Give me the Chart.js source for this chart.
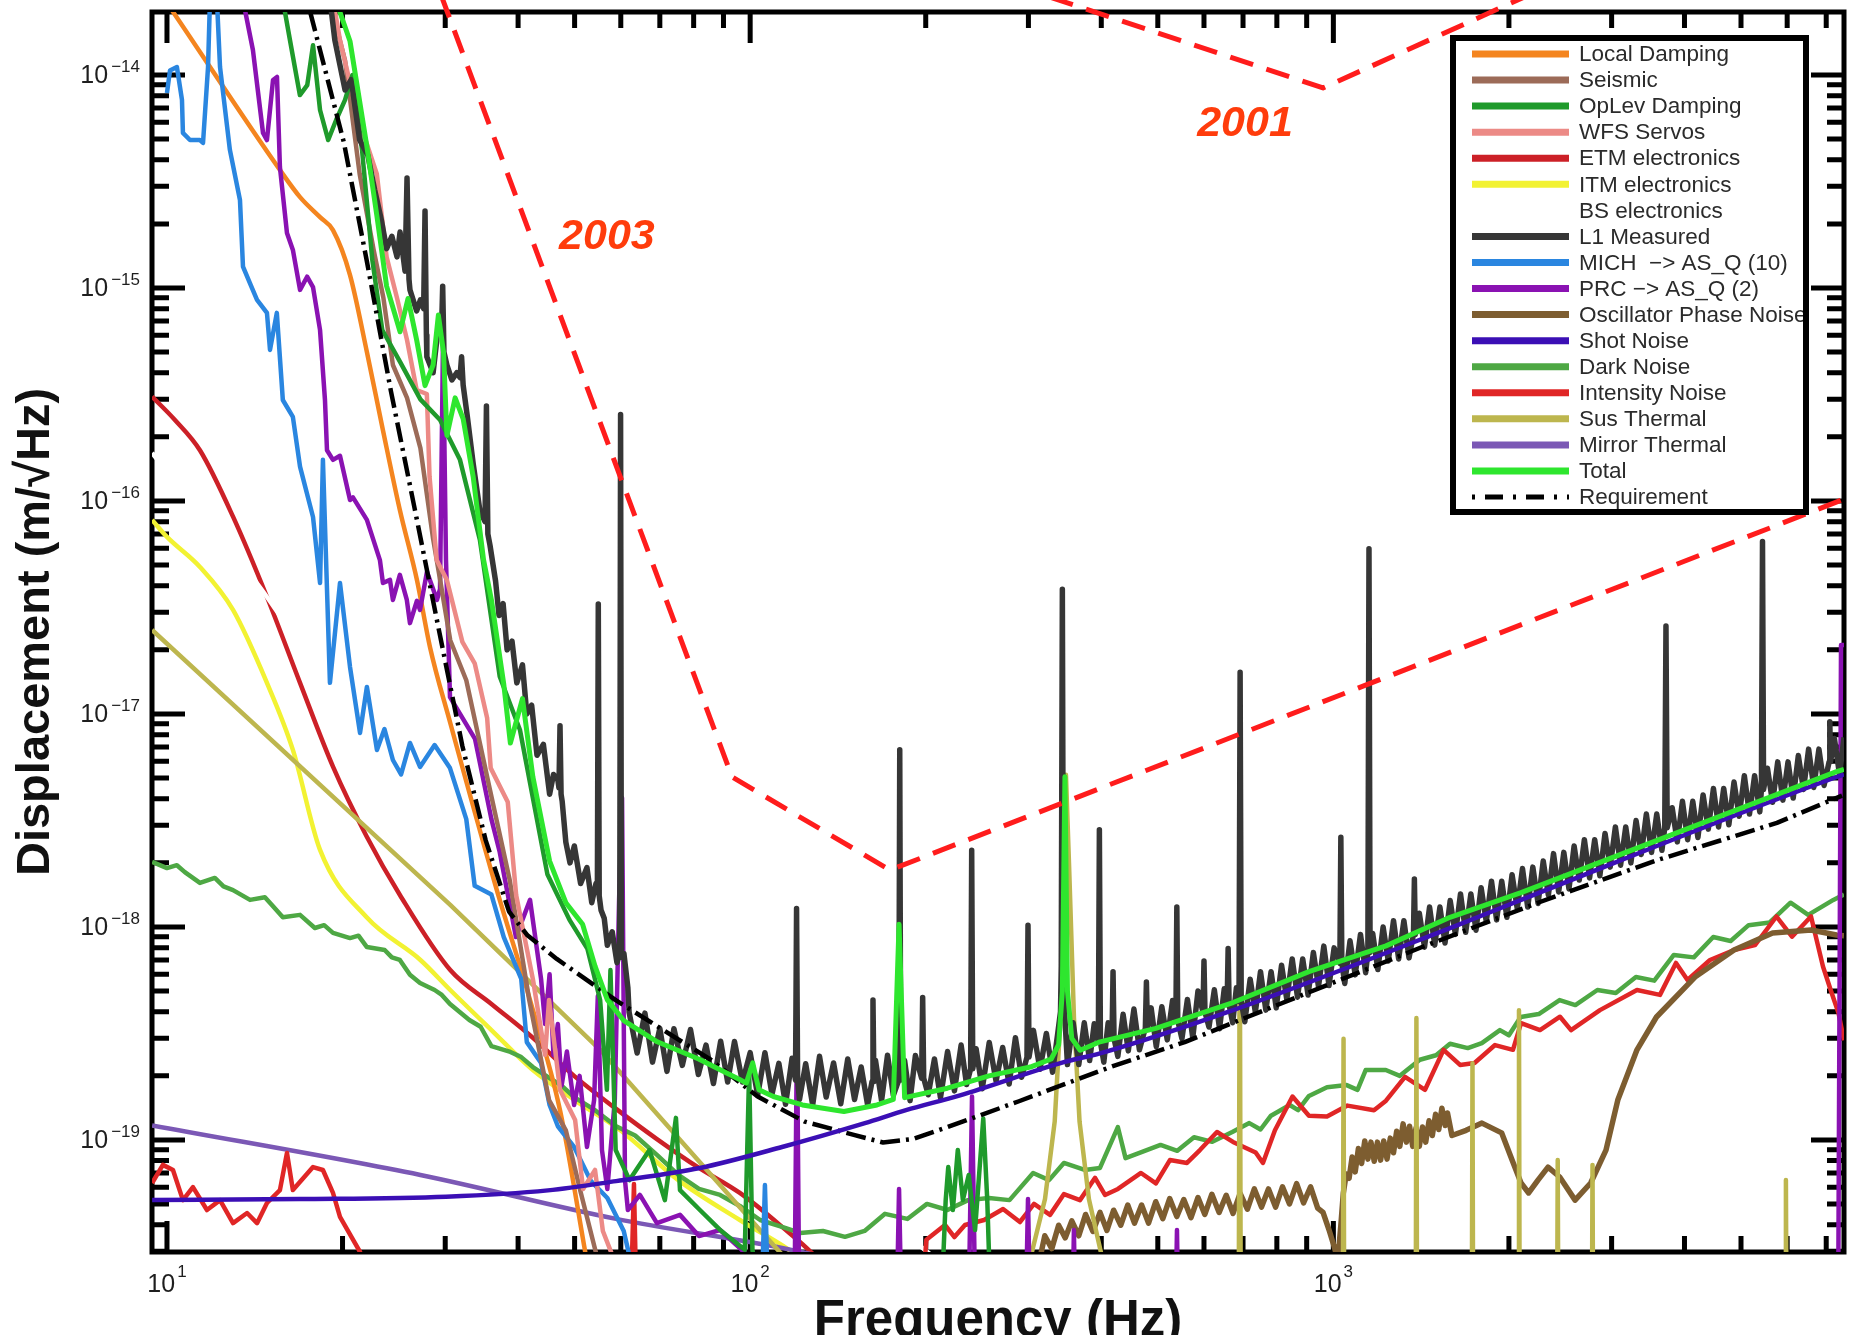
<!DOCTYPE html>
<html>
<head>
<meta charset="utf-8">
<title>Displacement noise L1</title>
<script src="https://cdn.jsdelivr.net/npm/chart.js@4.4.1/dist/chart.umd.min.js"></script>
<style>
  html, body { margin: 0; padding: 0; background: #ffffff; }
  canvas { display: block; }
</style>
</head>
<body>
<canvas id="grafico" width="1857" height="1335"></canvas>
<script>
// Limites de los ejes (Hz y m/rtHz)
const xMin = 9.426, xMax = 7509;
const yMin = 2.979e-20, yMax = 1.976e-14;

// Exponentes de las etiquetas de los ejes
const xTickExps = [1, 2, 3];
const yTickExps = [-14, -15, -16, -17, -18, -19];

// Series: pares [frecuencia, desplazamiento]
const localDamping = [[9.43,2.76e-14],[10.24,1.98e-14],[15.62,3.58e-15],[16.91,2.67e-15],[18.3,2.15e-15],[19.26,1.87e-15],[20.6,1.15e-15],[22.02,5.01e-16],[23.46,2.15e-16],[25.08,9.07e-17],[26.83,4.26e-17],[28.25,2.06e-17],[30.57,9.17e-18],[36.6,1.56e-18],[41.93,4.54e-19],[47.2,1.38e-19],[52.29,2.85e-20]];

const seismic = [[19.0,2.25e-14],[20.2,1.17e-14],[21.4,3.43e-15],[22.6,1.52e-15],[23.5,9.0e-16],[24.4,4.35e-16],[25.8,3.05e-16],[27.2,1.77e-16],[28.6,6.64e-17],[29.4,4.26e-17],[30.6,2.22e-17],[32.6,1.44e-17],[35.8,4.4e-18],[38.7,1.66e-18],[41.8,4.54e-19],[45.2,1.54e-19],[48.3,1.11e-19],[51.1,5.82e-20],[54.8,2.73e-20]];

const opLevDamping = [[15.8,2.25e-14],[16.25,1.46e-14],[16.9,8.05e-15],[17.4,8.97e-15],[17.8,1.38e-14],[18.3,6.85e-15],[18.9,4.95e-15],[19.5,6.15e-15],[20.2,7.64e-15],[20.8,1.0e-14],[21.6,4.45e-15],[22.5,1.35e-15],[23.4,6.35e-16],[25.1,4.5e-16],[27.2,3.0e-16],[29.4,2.4e-16],[31.8,1.56e-16],[34.4,6.56e-17],[37.2,1.5e-17],[40.3,8.41e-18],[44.9,1.77e-18],[49.0,1.08e-18],[52.6,7.89e-19],[55.3,4.54e-19],[56.8,1.72e-19],[57.6,6.28e-19],[58.8,8.97e-20],[62.1,6.48e-20],[67.2,8.97e-20],[71.4,5.22e-20],[74.6,1.27e-19],[75.8,5.82e-20],[82.0,4.69e-20],[88.8,3.78e-20],[97.9,3.05e-20],[99.6,2.11e-19],[100.9,3.05e-20],[108,1e-20],[211,1e-20],[216.4,5.22e-20],[218.6,7.46e-20],[222.6,4.69e-20],[227,8.97e-20],[231.6,5.22e-20],[237,6.85e-20],[243,3.78e-20],[251,1.26e-19],[255,5.22e-20],[260,1e-20]];

const wfsServos = [[19.26,2.25e-14],[19.8,1.46e-14],[20.6,9.17e-15],[21.9,4.95e-15],[22.9,3.43e-15],[23.8,1.4e-15],[24.8,8.97e-16],[25.8,5.7e-16],[26.8,3.32e-16],[27.9,3.18e-16],[28.2,1.3e-16],[29.0,5.28e-17],[30.2,4.26e-17],[32.1,2.18e-17],[33.7,1.73e-17],[35.4,9.57e-18],[35.9,5.57e-18],[38.4,3.86e-18],[39.7,1.41e-18],[42.4,5.7e-19],[44.5,2.51e-19],[45.2,4.54e-19],[47.2,1.72e-19],[50.1,1.24e-19],[51.7,5.89e-20],[54.2,7.23e-20],[55.9,3.74e-20],[58.9,2.59e-20]];

const etmElectronics = [[9.43,3.09e-16],[10.32,2.4e-16],[11.39,1.73e-16],[12.98,8.44e-17],[14.83,3.56e-17],[16.91,1.4e-17],[19.26,5.66e-18],[22.0,2.66e-18],[25.1,1.41e-18],[30.6,6.28e-19],[36.0,4.35e-19],[42.4,3.02e-19],[49.9,2.0e-19],[58.9,1.4e-19],[69.2,1.01e-19],[81.7,7.39e-20],[96.0,5.64e-20],[113.4,3.91e-20],[129.1,2.85e-20],[137,2.32e-20]];

const itmElectronics = [[9.43,8.15e-17],[10.0,6.78e-17],[11.39,4.9e-17],[12.98,3.08e-17],[14.84,1.4e-17],[16.44,6.78e-18],[18.3,2.3e-18],[22.0,1.11e-18],[27.2,7.0e-19],[30.6,5.06e-19],[36.0,3.28e-19],[42.4,2.13e-19],[50.0,1.54e-19],[59.9,1.11e-19],[75.3,6.48e-20],[96.0,4.21e-20],[116.6,3.05e-20],[126.5,2.59e-20]];

const bsElectronics = [[9.43,1.68e-16],[14.83,3.55e-17],[25.1,3.94e-18],[55.2,4.54e-19],[122,8.97e-20],[220,2.45e-20]];

const l1Measured = [[18.8,3.0e-14],[19.4,1.46e-14],[20.2,8.5e-15],[20.7,9.5e-15],[21.4,4.95e-15],[22.1,4.2e-15],[22.7,2.9e-15],[23.3,2.1e-15],[23.8,1.53e-15],[24.3,1.75e-15],[24.8,1.4e-15],[25.1,1.83e-15],[25.6,1.2e-15],[25.8,3.28e-15],[26.0,1.1e-15],[26.1,9.8e-16],[26.8,7.8e-16],[27.2,8.8e-16],[27.55,8.0e-16],[27.7,2.3e-15],[27.85,6.0e-16],[27.9,4.76e-16],[28.6,4.0e-16],[29.15,6.35e-16],[29.55,6.0e-16],[29.7,1.02e-15],[29.85,5.0e-16],[30.2,4.35e-16],[30.8,3.7e-16],[31.4,4.0e-16],[31.8,3.8e-16],[32.0,4.76e-16],[32.2,3.5e-16],[32.7,2.55e-16],[33.5,1.5e-16],[34.4,9.0e-17],[35.1,8.0e-17],[35.3,2.79e-16],[35.5,7.0e-17],[35.8,6.2e-17],[36.6,4.2e-17],[37.1,2.9e-17],[37.7,3.3e-17],[38.3,2.0e-17],[39.05,2.2e-17],[39.8,1.4e-17],[40.7,1.7e-17],[41.4,1.0e-17],[42.2,1.1e-17],[43.1,6.4e-18],[44.2,7.2e-18],[45.3,4.2e-18],[46.0,5.2e-18],[46.8,4.9e-18],[47.0,4.5e-18],[47.2,8.8e-18],[47.4,4.2e-18],[47.6,3.9e-18],[48.3,2.5e-18],[49.1,2.0e-18],[49.95,2.4e-18],[51.2,1.6e-18],[52.5,1.9e-18],[53.5,1.3e-18],[54.4,1.6e-18],[54.7,1.45e-18],[54.9,3.28e-17],[55.1,1.4e-18],[55.5,1.2e-18],[56.2,1.1e-18],[56.9,8.2e-19],[58.0,9.5e-19],[59.1,6.8e-19],[59.75,7.5e-19],[59.95,2.55e-16],[60.15,7.2e-19],[60.75,7.5e-19],[61.7,5.2e-19],
[62,3.98e-19],[64,2.56e-19],[66,3.94e-19],[68,2.32e-19],[70,3.34e-19],[72,2.1e-19],[74,3.33e-19],[76.5,2.24e-19],[79,3.3e-19],[81.5,2.03e-19],[84,2.79e-19],[86.5,1.84e-19],[89,2.91e-19],[91.5,1.87e-19],[94,2.9e-19],[97,1.87e-19],[100,2.57e-19],[103,1.62e-19],[106,2.57e-19],[109,1.64e-19],[112,2.29e-19],[115,1.47e-19],[118,2.42e-19],[119.6,1.91e-19],[120.1,1.22e-18],[120.6,1.91e-19],[121.5,1.55e-19],[124.5,2.28e-19],[128,1.46e-19],[131.5,2.47e-19],[135,1.59e-19],[139,2.3e-19],[143,1.48e-19],[147,2.4e-19],[151,1.55e-19],[155,2.2e-19],[159,1.46e-19],[161.8,1.88e-19],[162.4,4.54e-19],[163,1.88e-19],[164,2.37e-19],[168,1.53e-19],[172,2.5e-19],[176,1.62e-19],[179.8,1.91e-19],[180.5,6.8e-18],[181.2,1.91e-19],[184,2.36e-19],[188,1.53e-19],[192,2.49e-19],[196.8,1.95e-19],[197.6,4.67e-19],[198.4,1.95e-19],[202,1.63e-19],[207,2.4e-19],[212,1.58e-19],[218,2.6e-19],[224,1.7e-19],[230,2.79e-19],[235,1.82e-19],[238.8,2.16e-19],[239.8,2.29e-18],[240.8,2.16e-19],[244,2.68e-19],[250,1.74e-19],[257,2.87e-19],[264,1.89e-19],[271,2.72e-19],[278,1.83e-19],[285,3.02e-19],[292,1.97e-19],[298.3,2.45e-19],[299.5,1.02e-18],[300.7,2.45e-19],[306,3.27e-19],[314,2.15e-19],[322,3.16e-19],[330,2.08e-19],[337,3.2e-19],[340.5,4.0e-19],[341.5,6.5e-19],[343,3.85e-17],[344.5,6.5e-19],[346,4.0e-19],[350,2.26e-19],[358,3.55e-19],[366,2.26e-19],[374,3.55e-19],[382,2.36e-19],[389,3.51e-19],[395.4,2.88e-19],[397,2.86e-18],[398.6,2.88e-19],[404,2.32e-19],[411,3.55e-19],[417.3,2.99e-19],[419,6.17e-19],[420.7,2.99e-19],[427,2.47e-19],[436,3.89e-19],[445,2.62e-19],[455,4.12e-19],[465,2.65e-19],[476,3.35e-19],[478,5.52e-19],[480,3.35e-19],[487,4.17e-19],[497,2.74e-19],[508,4.22e-19],[519,2.95e-19],[530,4.52e-19],[537,3.63e-19],[539,1.24e-18],[541,3.63e-19],[550,2.99e-19],[562,4.57e-19],[574,3.02e-19],[586,5.01e-19],[597.6,3.98e-19],[600,6.92e-19],[602.4,3.98e-19],[612,3.39e-19],[625,5.07e-19],[638,3.33e-19],[650,5.13e-19],[657.4,4.32e-19],[660,7.92e-19],[662.6,4.32e-19],[672,3.55e-19],[682,5.19e-19],[689,4.47e-19],[692,1.57e-17],[695,4.47e-19],[705,3.59e-19],[720,5.69e-19],[735,3.98e-19],[750,6.17e-19],[766,4.07e-19],[782,6.17e-19],[798,4.17e-19],[815,6.61e-19],[832,4.57e-19],[850,7.08e-19],[868,4.68e-19],[886,7.08e-19],[905,4.79e-19],[924,7.59e-19],[943,5.25e-19],[963,8.13e-19],[983,5.31e-19],[1003,7.98e-19],[1026,6.76e-19],[1030,2.64e-18],[1034,6.76e-19],[1046,5.43e-19],[1068,8.61e-19],[1090,5.96e-19],[1113,9.23e-19],[1136,6.1e-19],[1146,7.59e-19],[1151,5.96e-17],[1156,7.59e-19],[1168,9.33e-19],[1192,6.31e-19],[1217,1.0e-18],[1242,6.92e-19],[1268,1.07e-18],[1294,7.08e-19],[1321,1.07e-18],[1348,7.16e-19],[1372,9.23e-19],[1377,1.68e-18],[1382,9.23e-19],[1404,1.16e-18],[1433,8.04e-19],[1462,1.24e-18],[1492,8.22e-19],[1523,1.24e-18],[1554,8.41e-19],[1586,1.33e-18],[1619,9.23e-19],[1652,1.43e-18],[1686,9.44e-19],[1721,1.43e-18],[1756,9.66e-19],[1792,1.53e-18],[1829,1.06e-18],[1867,1.64e-18],[1905,1.08e-18],[1944,1.64e-18],[1984,1.11e-18],[2025,1.76e-18],[2067,1.22e-18],[2110,1.88e-18],[2154,1.24e-18],[2198,1.91e-18],[2244,1.29e-18],[2290,2.04e-18],[2337,1.41e-18],[2385,2.21e-18],[2434,1.46e-18],[2484,2.24e-18],[2535,1.51e-18],[2587,2.4e-18],[2640,1.66e-18],[2694,2.57e-18],[2750,1.7e-18],[2806,2.57e-18],[2864,1.74e-18],[2923,2.75e-18],[2983,1.91e-18],[3045,2.95e-18],[3108,1.95e-18],[3172,2.95e-18],[3237,2.0e-18],[3304,3.16e-18],[3372,2.19e-18],[3441,3.39e-18],[3512,2.24e-18],[3585,3.39e-18],[3659,2.29e-18],[3700,2.92e-18],[3718,2.59e-17],[3736,2.92e-18],[3810,3.63e-18],[3888,2.51e-18],[3968,3.89e-18],[4050,2.57e-18],[4133,3.89e-18],[4218,2.63e-18],[4305,4.17e-18],[4394,2.88e-18],[4484,4.47e-18],[4576,2.95e-18],[4670,4.47e-18],[4766,3.02e-18],[4864,4.79e-18],[4964,3.31e-18],[5066,5.13e-18],[5170,3.39e-18],[5276,5.13e-18],[5385,3.47e-18],[5420,4.42e-18],[5443,6.45e-17],[5466,4.42e-18],[5550,5.56e-18],[5664,3.85e-18],[5780,5.96e-18],[5899,3.94e-18],[6020,5.96e-18],[6144,4.03e-18],[6270,6.38e-18],[6399,4.42e-18],[6530,6.84e-18],[6664,4.52e-18],[6801,6.84e-18],[6941,4.62e-18],[7080,5.96e-18],[7100,9.2e-18],[7120,5.96e-18],[7230,7.67e-18],[7378,5.19e-18],[7509,7.76e-18]];

const michAsq = [[10.0,8.23e-15],[10.12,1.05e-14],[10.4,1.09e-14],[10.61,7.64e-15],[10.65,5.35e-15],[10.95,4.95e-15],[11.39,4.95e-15],[11.53,4.8e-15],[11.76,1.09e-14],[11.85,2.25e-14],[12.18,2.25e-14],[12.33,1.09e-14],[12.82,4.45e-15],[13.34,2.59e-15],[13.5,1.26e-15],[13.88,1.05e-15],[14.27,8.79e-16],[14.84,7.64e-16],[15.02,5.12e-16],[15.43,7.64e-16],[15.8,2.98e-16],[16.44,2.48e-16],[16.91,1.45e-16],[17.8,8.41e-17],[18.3,4.12e-17],[18.51,1.56e-16],[19.03,1.4e-17],[19.8,4.12e-17],[20.6,1.66e-17],[21.43,8.15e-18],[22.02,1.34e-17],[22.91,6.78e-18],[23.6,8.5e-18],[24.4,6.08e-18],[25.2,5.2e-18],[26.1,7.31e-18],[27.16,5.64e-18],[28.77,7.15e-18],[30.57,5.57e-18],[32.6,3.21e-18],[33.7,1.56e-18],[36.0,1.42e-18],[37.8,8.97e-19],[40.5,5.7e-19],[41.4,2.88e-19],[43.8,2.3e-19],[45.3,1.46e-19],[46.8,1.16e-19],[49.9,9.27e-20],[53.3,6.43e-20],[56.9,5.34e-20],[60.7,3.74e-20],[62.6,2.59e-20],[104,1e-20],[106,6.15e-20],[108,1e-20]];

const prcAsq = [[13.5,2.25e-14],[14.04,1.31e-14],[14.61,5.35e-15],[14.84,4.95e-15],[15.2,9.48e-15],[15.44,9.79e-15],[15.62,3.7e-15],[16.06,1.81e-15],[16.44,1.51e-15],[16.91,9.8e-16],[17.39,1.13e-15],[17.8,1.01e-15],[18.3,6.35e-16],[18.66,2.98e-16],[18.81,1.73e-16],[19.26,1.56e-16],[19.8,1.63e-16],[20.6,1.01e-16],[20.84,1.04e-16],[22.02,8.15e-17],[23.18,5.28e-17],[23.46,4.12e-17],[24.12,4.26e-17],[24.4,3.43e-17],[25.08,4.5e-17],[25.78,3.43e-17],[26.1,2.67e-17],[26.83,3.4e-17],[27.16,3.08e-17],[27.91,4.65e-17],[29.04,3.43e-17],[29.39,3.86e-17],[29.74,5.7e-16],[30.09,5.28e-17],[30.57,1.2e-17],[33.74,7.64e-18],[36.0,3.21e-18],[37.2,2.25e-18],[39.66,8.97e-19],[41.93,1.34e-18],[43.8,5.7e-19],[44.5,3.5e-19],[45.3,6.0e-19],[46.0,2.5e-19],[46.8,3.5e-19],[47.5,1.8e-19],[48.5,2.6e-19],[49.9,1.46e-19],[51.0,2.0e-19],[52.5,9.27e-20],[54.0,1.54e-19],[54.8,4.74e-19],[55.7,8.97e-20],[56.9,5.89e-20],[58.6,1.54e-19],[59.6,1.34e-18],[60.3,4.04e-18],[61.0,6.48e-20],[61.7,4.69e-20],[64.7,5.52e-20],[69.2,4.07e-20],[75.8,4.45e-20],[81.7,3.54e-20],[88.8,3.78e-20],[96.0,3.11e-20],[102.7,2.59e-20],[110,1e-20],[118.9,1e-20],[120.3,3.28e-19],[121.6,1e-20],[177.8,1e-20],[180,5.89e-20],[182.3,1e-20],[236.3,1e-20],[240.1,1.6e-19],[243.9,1e-20],[296,1e-20],[299.5,5.28e-20],[303,1e-20],[356.3,1e-20],[359,3.78e-20],[361.9,1e-20],[535,1e-20],[539.3,3.78e-20],[543.5,1e-20],[7333,1e-20],[7421,2.11e-17],[7600,2.11e-17]];

const oscPhase = [[309,2.59e-20],[315,2.9e-20],[320,3.55e-20],[329,3.09e-20],[338,3.98e-20],[347,3.47e-20],[356,4.17e-20],[366,3.55e-20],[376,4.47e-20],[387,3.72e-20],[398,4.57e-20],[409,3.76e-20],[420,4.68e-20],[432,3.98e-20],[444,4.95e-20],[456,4.07e-20],[469,4.95e-20],[482,4.07e-20],[496,5.13e-20],[510,4.27e-20],[524,5.31e-20],[539,4.37e-20],[554,5.25e-20],[570,4.32e-20],[586,5.37e-20],[602,4.47e-20],[619,5.56e-20],[637,4.57e-20],[655,5.5e-20],[673,4.52e-20],[692,5.62e-20],[712,4.73e-20],[732,5.89e-20],[753,4.84e-20],[774,5.89e-20],[796,4.84e-20],[818,6.03e-20],[841,5.01e-20],[865,6.24e-20],[889,5.07e-20],[914,6.03e-20],[940,4.79e-20],[960,4.57e-20],[985,3.72e-20],[1003,3.16e-20],[1018,2.75e-20],[1030,3.98e-20],[1040,5.62e-20],[1052,6.92e-20],[1064,6.61e-20],[1077,8.32e-20],[1090,7.08e-20],[1104,9.12e-20],[1118,7.76e-20],[1132,9.89e-20],[1146,8.13e-20],[1160,9.77e-20],[1175,7.94e-20],[1190,9.77e-20],[1205,8.04e-20],[1220,9.89e-20],[1236,8.13e-20],[1252,1.02e-19],[1268,8.71e-20],[1284,1.1e-19],[1300,9.33e-20],[1317,1.19e-19],[1334,9.77e-20],[1351,1.16e-19],[1368,9.33e-20],[1386,1.14e-19],[1404,9.33e-20],[1422,1.15e-19],[1440,9.77e-20],[1459,1.23e-19],[1478,1.05e-19],[1497,1.32e-19],[1516,1.12e-19],[1535,1.41e-19],[1555,1.17e-19],[1569,1.34e-19],[1597,1.05e-19],[1689,1.11e-19],[1798,1.2e-19],[1943,1.08e-19],[2025,8.05e-20],[2098,6.28e-20],[2162,5.64e-20],[2243,6.48e-20],[2334,7.46e-20],[2444,6.7e-20],[2597,5.22e-20],[2762,6.28e-20],[2934,8.97e-20],[3074,1.54e-19],[3316,2.65e-19],[3581,3.78e-19],[4169,5.82e-19],[4864,7.8e-19],[5664,9.38e-19],[6592,9.68e-19],[7290,9.17e-19],[7509,9.1e-19]];

const shotNoise = [[9.43,5.22e-20],[16.9,5.28e-20],[30.1,5.42e-20],[45,5.8e-20],[58.9,6.41e-20],[82,7.39e-20],[113.4,9.27e-20],[157.3,1.2e-19],[185,1.38e-19],[229,1.62e-19],[345,2.32e-19],[398,2.55e-19],[673,4.07e-19],[1585,9.88e-19],[2098,1.34e-18],[7290,5.06e-18],[7509,5.2e-18]];

const darkNoise = [[9.43,2.02e-18],[10.0,1.89e-18],[10.4,1.95e-18],[10.73,1.81e-18],[11.39,1.61e-18],[12.08,1.7e-18],[12.5,1.55e-18],[12.98,1.49e-18],[13.88,1.34e-18],[14.72,1.38e-18],[15.2,1.25e-18],[15.8,1.11e-18],[16.91,1.14e-18],[17.93,9.89e-19],[18.6,1.02e-18],[19.26,9.38e-19],[20.6,8.87e-19],[21.3,9.1e-19],[22.02,8.05e-19],[23.62,7.8e-19],[24.3,7.2e-19],[25.08,7.0e-19],[26.1,5.96e-19],[27.16,5.46e-19],[28.77,5.06e-19],[29.6,4.8e-19],[30.57,4.35e-19],[33.0,3.66e-19],[34.5,3.4e-19],[36.0,2.76e-19],[38.8,2.59e-19],[40.5,2.45e-19],[42.4,2.2e-19],[45.3,1.95e-19],[47.5,1.8e-19],[49.9,1.59e-19],[54.2,1.38e-19],[58.9,1.16e-19],[63.5,1.05e-19],[69.2,8.51e-20],[75.3,6.85e-20],[81.7,5.89e-20],[88.8,5.52e-20],[96.0,4.9e-20],[104,4.21e-20],[113.4,3.91e-20],[121.8,3.66e-20],[133.3,3.74e-20],[145.4,3.51e-20],[157.1,3.74e-20],[170.3,4.5e-20],[186,4.26e-20],[201,5.01e-20],[217.9,4.69e-20],[236.4,5.22e-20],[256.7,5.34e-20],[278.4,5.22e-20],[305.6,7.0e-20],[325.4,6.48e-20],[345.1,7.8e-20],[374.6,7.23e-20],[397.9,7.39e-20],[427,1.15e-19],[440.2,8.22e-20],[470,8.8e-20],[505.4,9.48e-20],[540,8.9e-20],[576.8,1.03e-19],[620,9.8e-20],[670.9,1.09e-19],[717.6,1.2e-19],[750,1.12e-19],[781.6,1.3e-19],[841.7,1.46e-19],[870,1.38e-19],[908.1,1.61e-19],[975.3,1.77e-19],[1054,1.81e-19],[1100,1.72e-19],[1136,2.13e-19],[1230,2.13e-19],[1300,2.0e-19],[1407,2.38e-19],[1500,2.5e-19],[1585,2.83e-19],[1700,2.7e-19],[1797,2.85e-19],[1930,3.28e-19],[2000,3.1e-19],[2095,3.78e-19],[2250,3.9e-19],[2443,4.54e-19],[2600,4.3e-19],[2836,5.06e-19],[3050,4.9e-19],[3302,5.82e-19],[3550,5.6e-19],[3835,7.39e-19],[4150,7.2e-19],[4481,8.97e-19],[4800,8.6e-19],[5153,1.02e-18],[5600,1.05e-18],[6080,1.3e-18],[6520,1.14e-18],[7200,1.34e-18],[7509,1.42e-18]];

const intensityNoise = [[9.43,6.28e-20],[9.84,7.64e-20],[10.24,7.23e-20],[10.65,5.22e-20],[11.08,6.01e-20],[11.71,4.69e-20],[12.33,5.22e-20],[12.98,4.07e-20],[13.72,4.54e-20],[14.27,4.07e-20],[14.84,5.06e-20],[15.62,5.82e-20],[16.06,8.69e-20],[16.44,5.82e-20],[17.8,7.46e-20],[18.51,7.23e-20],[19.26,5.64e-20],[19.8,4.35e-20],[21.43,2.98e-20],[22.1,1.98e-20],[62.2,1.2e-20],[63.2,6.21e-20],[64.0,1.2e-20],[195,1.2e-20],[200.5,3.4e-20],[215.8,3.99e-20],[224,3.5e-20],[233.5,3.99e-20],[251.8,4.21e-20],[271.4,4.74e-20],[290.1,4.12e-20],[306.7,5.01e-20],[326.7,4.45e-20],[345.2,5.57e-20],[367.7,5.22e-20],[390.3,6.64e-20],[405.9,5.52e-20],[427.2,5.89e-20],[467.9,7.0e-20],[496.3,6.25e-20],[524.5,8.05e-20],[561,7.8e-20],[590.5,8.97e-20],[631.6,1.09e-19],[672.8,9.79e-20],[735.8,8.73e-20],[757.3,7.8e-20],[794,1.11e-19],[851,1.6e-19],[908.1,1.3e-19],[975.1,1.29e-19],[1057,1.45e-19],[1174,1.38e-19],[1231,1.53e-19],[1327,1.98e-19],[1436,1.72e-19],[1545,2.65e-19],[1649,2.25e-19],[1746,2.3e-19],[1893,2.79e-19],[2032,2.65e-19],[2098,3.54e-19],[2261,3.28e-19],[2447,3.79e-19],[2556,3.28e-19],[2865,4.07e-19],[3316,5.06e-19],[3631,4.8e-19],[3868,6.78e-19],[4048,5.64e-19],[4424,7.0e-19],[4864,7.8e-19],[5284,8.22e-19],[5752,1.12e-18],[6115,9.0e-19],[6592,1.12e-18],[6911,6.52e-19],[7124,5.06e-19],[7348,3.94e-19],[7509,2.94e-19]];

const susThermal = [[9.43,2.48e-17],[30.6,1.27e-18],[55.3,2.65e-19],[104.3,3.74e-20],[122,2.32e-20],[200,1e-20],[300,1e-20],[301.8,2.73e-20],[320.3,5.28e-20],[332.8,1.22e-19],[340.5,3.74e-19],[345.2,2.0e-18],[347.9,5.18e-18],[352.1,2.0e-18],[359.1,3.74e-19],[367.1,1.22e-19],[380.9,5.28e-20],[402.2,2.73e-20],[420,1e-20],[688,1e-20],[691,1.35e-18],[694,1e-20],[1038,1e-20],[1041,2.99e-19],[1044,1e-20],[1384,1e-20],[1388,3.74e-19],[1392,1e-20],[1727,1e-20],[1732,2.29e-19],[1737,1e-20],[2075,1e-20],[2081,4.07e-19],[2087,1e-20],[2418,1e-20],[2425,8.05e-20],[2432,1e-20],[2774,1e-20],[2782,7.64e-20],[2790,1e-20],[5953,1e-20],[5970,6.48e-20],[5987,1e-20],[7500,1e-20]];

const mirrorThermal = [[9.43,1.17e-19],[27.2,6.85e-20],[58.9,4.26e-20],[113.4,3.11e-20],[154,2.59e-20]];

const total = [[19.3,3.0e-14],[19.8,1.97e-14],[20.6,1.44e-14],[22.0,4.69e-15],[22.9,2.19e-15],[23.8,1.02e-15],[25.1,6.23e-16],[25.9,8.93e-16],[26.8,5.7e-16],[27.7,3.48e-16],[28.6,4.36e-16],[29.2,7.46e-16],[29.8,4.99e-16],[30.2,2.03e-16],[31.2,3.05e-16],[32.2,2.43e-16],[33.5,1.3e-16],[34.9,5.3e-17],[36.0,3.43e-17],[37.8,1.38e-17],[38.8,7.3e-18],[40.7,1.18e-17],[42.4,5.07e-18],[45.3,2.04e-18],[48.3,1.3e-18],[51.6,1.03e-18],[54.2,6.55e-19],[56.9,4.55e-19],[60.8,3.62e-19],[69.3,2.89e-19],[81.6,2.4e-19],[96.1,1.92e-19],[98.5,1.85e-19],[101,2.3e-19],[103.5,1.72e-19],[109.6,1.6e-19],[122.9,1.46e-19],[144.8,1.36e-19],[165,1.46e-19],[176,1.55e-19],[180,1.03e-18],[184,1.58e-19],[217.9,1.75e-19],[256.7,2.0e-19],[302.2,2.2e-19],[328.2,2.4e-19],[338,2.8e-19],[343,5.0e-19],[346.5,5.07e-18],[350,5.0e-19],[356,3.0e-19],[368,2.64e-19],[398,2.89e-19],[496,3.34e-19],[673,4.42e-19],[908,6.17e-19],[1231,8.15e-19],[1585,1.11e-18],[2098,1.45e-18],[3868,2.76e-18],[7290,5.36e-18],[7509,5.5e-18]];

const requirement = [[17.6,1.98e-14],[20.1,4.84e-15],[22.0,1.35e-15],[24.2,3.3e-16],[26.6,9.16e-17],[29.2,2.55e-17],[32.1,7.08e-18],[35.2,2.55e-18],[38.6,1.18e-18],[41.5,9.14e-19],[46.6,7.08e-19],[58.9,4.52e-19],[71.0,3.28e-19],[85.6,2.38e-19],[103,1.6e-19],[124,1.22e-19],[150,1.06e-19],[169,9.73e-20],[190,1.01e-19],[218,1.15e-19],[289,1.52e-19],[420,2.23e-19],[556,2.88e-19],[887,4.81e-19],[1416,8.03e-19],[2261,1.31e-18],[3610,2.07e-18],[5762,3.08e-18],[7452,4.14e-18]];

// Curvas rojas discontinuas (sensibilidad de 2003 y 2001)
const curva2003 = [[29.5,2.38e-14],[93.1,5.06e-18],[173.7,1.85e-18],[7509,1.02e-16]];
const curva2001 = [[326.7,2.32e-14],[959.8,8.69e-15],[2123,2.32e-14]];
// Posicion de los textos de año [texto, frecuencia, desplazamiento]
const anotaciones = [['2003', 56.8, 1.73e-15], ['2001', 705.5, 5.89e-15]];

const FUENTE = '"Liberation Sans", Arial, Helvetica, sans-serif';

// Definicion de cada serie (orden de la leyenda); "capa" mayor = se dibuja debajo
const series = [
  { label: 'Local Damping', datos: localDamping, color: '#f4851f', capa: 12, suave: true },
  { label: 'Seismic', datos: seismic, color: '#9c6b58', capa: 9 },
  { label: 'OpLev Damping', datos: opLevDamping, color: '#1f9a2b', capa: 7 },
  { label: 'WFS Servos', datos: wfsServos, color: '#ec8a86', capa: 8 },
  { label: 'ETM electronics', datos: etmElectronics, color: '#cc2027', capa: 20, suave: true },
  { label: 'ITM electronics', datos: itmElectronics, color: '#f2f232', capa: 18, suave: true },
  { label: 'BS electronics', datos: bsElectronics, color: '#ffffff', capa: 19, suave: true },
  { label: 'L1 Measured', datos: l1Measured, color: '#363636', capa: 6, ancho: 5.5 },
  { label: 'MICH  \u2212> AS_Q (10)', datos: michAsq, color: '#2a86e0', capa: 11 },
  { label: 'PRC \u2212> AS_Q (2)', datos: prcAsq, color: '#8a12b2', capa: 10 },
  { label: 'Oscillator Phase Noise', datos: oscPhase, color: '#7d5d30', capa: 14, ancho: 5.5 },
  { label: 'Shot Noise', datos: shotNoise, color: '#3b0fb5', capa: 4, suave: true },
  { label: 'Dark Noise', datos: darkNoise, color: '#4ea844', capa: 16 },
  { label: 'Intensity Noise', datos: intensityNoise, color: '#e02626', capa: 15 },
  { label: 'Sus Thermal', datos: susThermal, color: '#bdb64e', capa: 13 },
  { label: 'Mirror Thermal', datos: mirrorThermal, color: '#7b58b5', capa: 17, suave: true },
  { label: 'Total', datos: total, color: '#2ee62e', capa: 3, ancho: 5 },
  { label: 'Requirement', datos: requirement, color: '#000000', capa: 5, guion: [20, 6, 3, 6] }
];

function aPuntos(lista) {
  return lista.map(p => ({ x: p[0], y: p[1] }));
}

const datasets = series.map(s => ({
  label: s.label,
  data: aPuntos(s.datos),
  borderColor: s.color,
  backgroundColor: s.color,
  borderWidth: s.ancho || 4.5,
  borderDash: s.guion || [],
  cubicInterpolationMode: s.suave ? 'monotone' : 'default',
  pointRadius: 0,
  fill: false,
  order: s.capa
}));

// Lineas rojas discontinuas encima de todo
[curva2003, curva2001].forEach((c, i) => {
  datasets.push({
    label: 'limite' + i,
    data: aPuntos(c),
    borderColor: '#ff1c1c',
    borderWidth: 5,
    borderDash: [24, 14],
    pointRadius: 0,
    fill: false,
    clip: false,
    order: i
  });
});

// Marco, marcas hacia dentro, etiquetas de ejes
const marco = {
  id: 'marco',
  beforeDatasetsDraw(chart) {
    const ctx = chart.ctx;
    const a = chart.chartArea;
    const ex = chart.scales.x, ey = chart.scales.y;
    ctx.save();
    ctx.strokeStyle = '#000';
    ctx.lineWidth = 5;
    ctx.lineCap = 'butt';

    for (let d = 0; d <= 3; d++) {
      for (let k = 1; k <= 9; k++) {
        const v = k * Math.pow(10, d);
        if (v < xMin || v > xMax) continue;
        const px = ex.getPixelForValue(v);
        const largo = k === 1 ? 31 : 16;
        ctx.beginPath();
        ctx.moveTo(px, a.bottom); ctx.lineTo(px, a.bottom - largo);
        ctx.moveTo(px, a.top); ctx.lineTo(px, a.top + largo);
        ctx.stroke();
      }
    }
    for (let d = -20; d <= -14; d++) {
      for (let k = 1; k <= 9; k++) {
        const v = k * Math.pow(10, d);
        if (v < yMin || v > yMax) continue;
        const py = ey.getPixelForValue(v);
        const largo = k === 1 ? 33 : 17;
        ctx.beginPath();
        ctx.moveTo(a.left, py); ctx.lineTo(a.left + largo, py);
        ctx.moveTo(a.right, py); ctx.lineTo(a.right - largo, py);
        ctx.stroke();
      }
    }
    ctx.strokeRect(a.left, a.top, a.right - a.left, a.bottom - a.top);

    // Etiquetas 10^n
    ctx.fillStyle = '#1e1e1e';
    ctx.textBaseline = 'alphabetic';
    ctx.textAlign = 'left';
    xTickExps.forEach(e => {
      const px = ex.getPixelForValue(Math.pow(10, e));
      ctx.font = '25px ' + FUENTE;
      const w1 = ctx.measureText('10').width;
      ctx.font = '17px ' + FUENTE;
      const w2 = ctx.measureText(String(e)).width;
      const x0 = px - (w1 + 2 + w2) / 2;
      ctx.font = '25px ' + FUENTE;
      ctx.fillText('10', x0, 1292);
      ctx.font = '17px ' + FUENTE;
      ctx.fillText(String(e), x0 + w1 + 2, 1277);
    });
    yTickExps.forEach(e => {
      const py = ey.getPixelForValue(Math.pow(10, e));
      const sup = '\u2212' + Math.abs(e);
      ctx.font = '17px ' + FUENTE;
      const w2 = ctx.measureText(sup).width;
      ctx.font = '25px ' + FUENTE;
      const w1 = ctx.measureText('10').width;
      const x0 = 140 - w2 - 3 - w1;
      ctx.fillText('10', x0, py + 8);
      ctx.font = '17px ' + FUENTE;
      ctx.fillText(sup, x0 + w1 + 3, py - 3);
    });

    // Titulos de los ejes
    ctx.fillStyle = '#111';
    ctx.textAlign = 'center';
    ctx.font = 'bold 51px ' + FUENTE;
    ctx.fillText('Frequency (Hz)', (a.left + a.right) / 2, 1336);
    ctx.save();
    ctx.translate(49, (a.top + a.bottom) / 2);
    ctx.rotate(-Math.PI / 2);
    ctx.font = 'bold 47px ' + FUENTE;
    ctx.fillText('Displacement (m/\u221AHz)', 0, 0);
    ctx.restore();
    ctx.restore();
  },
  afterDatasetsDraw(chart) {
    const ctx = chart.ctx;
    ctx.save();
    ctx.fillStyle = '#ff3c0c';
    ctx.font = 'italic bold 43px ' + FUENTE;
    ctx.textAlign = 'center';
    ctx.textBaseline = 'middle';
    anotaciones.forEach(t => {
      ctx.fillText(t[0], chart.scales.x.getPixelForValue(t[1]), chart.scales.y.getPixelForValue(t[2]));
    });
    ctx.restore();
  }
};

// Leyenda dibujada dentro del area del grafico
const leyenda = {
  id: 'leyenda',
  afterDraw(chart) {
    const ctx = chart.ctx;
    const caja = { x: 1453, y: 38, w: 353, h: 474 };
    ctx.save();
    ctx.fillStyle = '#fff';
    ctx.fillRect(caja.x, caja.y, caja.w, caja.h);
    ctx.beginPath();
    ctx.rect(caja.x, caja.y, caja.w, caja.h);
    ctx.clip();
    ctx.font = '22.5px ' + FUENTE;
    ctx.textBaseline = 'middle';
    ctx.textAlign = 'left';
    series.forEach((s, i) => {
      const yy = 54 + i * 26.06;
      ctx.strokeStyle = s.color;
      ctx.lineWidth = s.guion ? 5 : 7;
      ctx.setLineDash(s.guion ? [3, 10, 18, 10] : []);
      ctx.beginPath();
      ctx.moveTo(1472, yy);
      ctx.lineTo(1569, yy);
      ctx.stroke();
      ctx.fillStyle = '#2b2b2b';
      ctx.fillText(s.label, 1579, yy + 1);
    });
    ctx.restore();
    ctx.save();
    ctx.strokeStyle = '#000';
    ctx.lineWidth = 6;
    ctx.strokeRect(caja.x, caja.y, caja.w, caja.h);
    ctx.restore();
  }
};

new Chart(document.getElementById('grafico').getContext('2d'), {
  type: 'line',
  data: { datasets: datasets },
  options: {
    responsive: false,
    animation: false,
    devicePixelRatio: 1,
    layout: { padding: { left: 152, right: 13, top: 12, bottom: 83 } },
    scales: {
      x: { type: 'logarithmic', min: xMin, max: xMax, display: false },
      y: { type: 'logarithmic', min: yMin, max: yMax, display: false }
    },
    elements: { line: { tension: 0, borderJoinStyle: 'round' } },
    plugins: { legend: { display: false }, tooltip: { enabled: false } }
  },
  plugins: [marco, leyenda]
});
</script>
</body>
</html>
